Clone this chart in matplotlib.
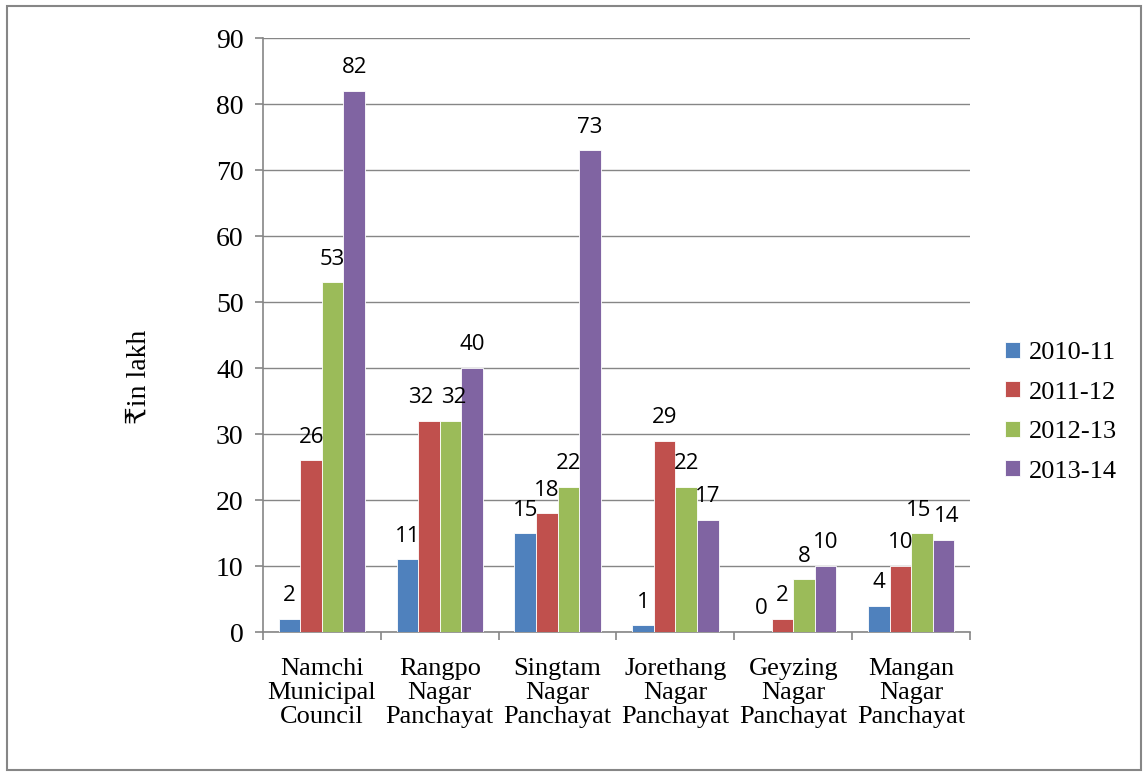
import matplotlib
matplotlib.use("Agg")
import matplotlib.pyplot as plt
import numpy as np
from matplotlib.patches import Rectangle

categories = ["Namchi\nMunicipal\nCouncil", "Rangpo\nNagar\nPanchayat", "Singtam\nNagar\nPanchayat",
              "Jorethang\nNagar\nPanchayat", "Geyzing\nNagar\nPanchayat", "Mangan\nNagar\nPanchayat"]
series_names = ["2010-11", "2011-12", "2012-13", "2013-14"]
v2010 = [2, 11, 15, 1, 0, 4]
v2011 = [26, 32, 18, 29, 2, 10]
v2012 = [53, 32, 22, 22, 8, 15]
v2013 = [82, 40, 73, 17, 10, 14]
values = [v2010, v2011, v2012, v2013]
colors = ["#4F81BD", "#C0504D", "#9BBB59", "#8064A2"]
yticks = [0, 10, 20, 30, 40, 50, 60, 70, 80, 90]

serif = ["Liberation Serif", "DejaVu Serif", "DejaVu Sans"]
sans = ["Open Sans", "DejaVu Sans"]

fig = plt.figure(figsize=(11.47, 7.76), dpi=100)
fig.patches.append(Rectangle((7/1147, 6/776), 1134/1147, 764/776, transform=fig.transFigure,
                             fill=False, edgecolor="#868686", linewidth=1.5))
ax = fig.add_axes([263/1147, 1-632/776, 707/1147, 594/776])

# small horizontal nudges (points) for crowded labels: (series, category) -> dx
nudges = {(1, 1): -6, (2, 1): 2, (3, 5): 2, (2, 5): -2}

x = np.arange(len(categories))
w = 0.183
for i, (vals, c, name) in enumerate(zip(values, colors, series_names)):
    pos = x + (i - 1.5) * w
    ax.bar(pos, vals, width=w, color=c, edgecolor="white", linewidth=0.6, label=name, zorder=3)
    for j, (p, v) in enumerate(zip(pos, vals)):
        ax.annotate(str(v), (p, v), xytext=(nudges.get((i, j), 0), 9), textcoords="offset points",
                    ha="center", va="bottom", fontsize=16, family=sans, zorder=4)

ax.set_xlim(-0.5, len(categories) - 0.5)
ax.set_ylim(0, 90)
ax.set_yticks(yticks)
ax.set_yticklabels([str(t) for t in yticks], family=serif, fontsize=20)
ax.yaxis.grid(True, color="#868686", linewidth=1.0, zorder=0)
ax.set_axisbelow(True)

ax.set_xticks(np.arange(-0.5, len(categories) + 0.5, 1.0))
ax.set_xticklabels([])
ax.set_xticks(x, minor=True)
ax.set_xticklabels(categories, minor=True, family=serif, fontsize=19, linespacing=1.12)
ax.tick_params(axis="x", which="minor", length=0, pad=19)
ax.tick_params(axis="x", which="major", length=6, color="#868686", width=1.2)
ax.tick_params(axis="y", length=6, color="#868686", width=1.2, pad=8)

for s in ["top", "right"]:
    ax.spines[s].set_visible(False)
for s in ["left", "bottom"]:
    ax.spines[s].set_color("#868686")
    ax.spines[s].set_linewidth(1.2)

ax.set_ylabel("₹in lakh", family=serif, fontsize=20)
ax.yaxis.set_label_coords(-0.157, 0.43)

leg = ax.legend(loc="center left", bbox_to_anchor=(1.035, 0.37), frameon=False,
                prop={"family": serif, "size": 19}, handlelength=0.55, handleheight=0.55,
                labelspacing=0.65, handletextpad=0.35, borderaxespad=0)

fig.savefig("out.png", dpi=100)
